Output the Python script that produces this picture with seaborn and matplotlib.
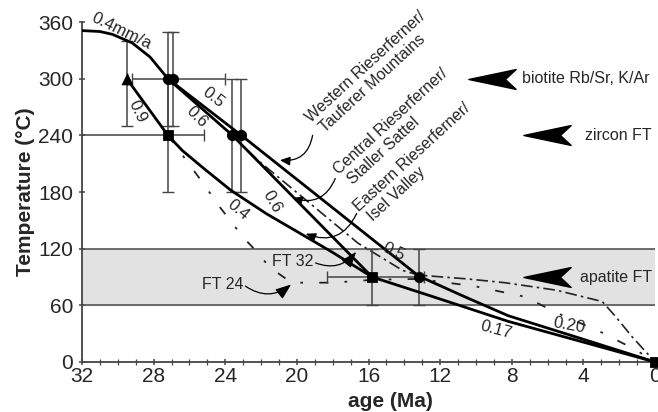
import matplotlib
import matplotlib.pyplot as plt
import numpy as np
import seaborn as sns
from matplotlib.path import Path

matplotlib.use("Agg")
sns.set_theme(style="ticks")
plt.rcParams["font.family"] = ["Liberation Sans", "DejaVu Sans"]

# cooling paths (age in Ma, temperature in degC)
west_age = [32, 31, 30.3, 29.2, 28.2, 27.2, 23.1, 13.2, 10.5, 8.2, 4, 0]
west_temp = [351, 350, 347, 338, 323, 300, 240, 91, 68, 49, 24, 0]
central_age = [27.2, 23.6, 15.8, 12.7, 8.2, 4, 0]
central_temp = [300, 240, 90, 71, 43, 21, 0]
east_age = [29.5, 27.2, 26.4, 25.2, 23.7, 21.7, 19.8, 18, 15.8]
east_temp = [300, 240, 224, 205, 182, 157, 136, 116, 90]
ft32_age = [23.6, 22.2, 16.6, 14.1, 13.2, 10.5, 8.4, 5.5, 2.95, 2.2, 1.3, 0]
ft32_temp = [240, 214, 126, 97, 92, 88, 84, 76, 64, 48, 27, 0]
ft24_age = [27.2, 26, 25.3, 24.3, 23, 22.4, 21.5, 20.3, 18, 15.8, 13.2, 10, 7.25, 5.6, 2.95, 1.1, 0]
ft24_temp = [240, 209, 191, 164, 132, 120, 100, 84, 84, 87, 88, 80, 69, 53, 31, 13, 0]

# dated samples
circle_age = [27.2, 26.9, 23.6, 23.1, 13.2]
circle_temp = [300, 300, 240, 240, 90]
square_age = [27.2, 15.8, 0]
square_temp = [240, 90, 0]
triangle_age = [29.5]
triangle_temp = [300]

# error bars
err_age = [29.5, 27.2, 26.9, 27.2, 23.6, 23.1, 15.8, 13.2]
err_temp = [300, 300, 300, 240, 240, 240, 90, 90]
err_age_older = [0, 3.2, 0, 2.0, 0, 0, 2.9, 0]
err_age_younger = [0, 2.0, 0, 6.9, 0, 0, 2.5, 0]
err_temp_lo = [50, 50, 50, 60, 60, 60, 30, 30]
err_temp_hi = [40, 50, 50, 60, 60, 60, 30, 30]

# closure temperatures of the dating methods
method_names = ["biotite Rb/Sr, K/Ar", "zircon FT", "apatite FT"]
method_temp = [300, 240, 90]
method_arrow_age = [9.1, 6.05, 6.05]
method_text_age = [7.42, 3.9, 4.18]

# exhumation-rate labels along the paths
rate_labels = ["0.4mm/a", "0.5", "0.6", "0.9", "0.4", "0.6", "0.5", "0.17", "0.20"]
rate_age = [29.8, 24.7, 25.6, 28.9, 23.3, 21.4, 14.6, 8.9, 4.8]
rate_temp = [350, 280, 260, 265, 161, 170, 117, 34, 39]
rate_rot = [-26, -38, -45, -65, -40, -60, -25, -15, -10]

# area labels, one line at a time
group_lines = ["Western Rieserferner/", "Tauferer Mountains",
               "Central Rieserferner/", "Staller Sattel",
               "Eastern Rieserferner/", "Isel Valley"]
group_age = [19.21, 18.42, 17.64, 16.86, 16.53, 15.74]
group_temp = [253.2, 242.6, 198.1, 187.5, 158.9, 148.3]
leader_tail_age = [19.1, 17.8, 16.6]
leader_tail_temp = [243, 197, 160]
leader_tip_age = [21.1, 20.4, 19.65]
leader_tip_temp = [214, 175, 137]

# fission-track path labels
ft_names = ["FT 32", "FT 24"]
ft_age = [21.4, 25.3]
ft_temp = [106, 82]
ft_tail_age = [19.1, 23.0]
ft_tip_age = [16.6, 20.2]
ft_tip_temp = [119, 84]

fig = plt.figure(figsize=(6.58, 4.12), dpi=100)
ax = fig.add_axes([0.1246, 0.1214, 0.871, 0.825])

ax.axhspan(60, 120, color="#e2e2e2", zorder=0)
for t in (60, 120):
    ax.axhline(t, color="#555555", lw=1.2, zorder=1)

solid = dict(color="black", lw=2.0, sort=False, estimator=None, ax=ax, zorder=3)
sns.lineplot(x=west_age, y=west_temp, **solid)
sns.lineplot(x=central_age, y=central_temp, **solid)
sns.lineplot(x=east_age, y=east_temp, **solid)
sns.lineplot(x=ft32_age, y=ft32_temp, color="#222222", lw=1.2, sort=False,
             estimator=None, ax=ax, linestyle=(0, (7, 2.5, 1.5, 2.5)), zorder=2)
sns.lineplot(x=ft24_age, y=ft24_temp, color="#222222", lw=1.3, sort=False,
             estimator=None, ax=ax, linestyle=(0, (5, 9, 1.5, 9)), zorder=2)

ax.errorbar(err_age, err_temp,
            xerr=[err_age_older, err_age_younger],
            yerr=[err_temp_lo, err_temp_hi],
            fmt="none", ecolor="#444444", elinewidth=1.1, capsize=4, zorder=2)

sns.scatterplot(x=circle_age, y=circle_temp, marker="o", s=55, color="black",
                edgecolor="black", ax=ax, zorder=4)
sns.scatterplot(x=square_age, y=square_temp, marker="s", s=55, color="black",
                edgecolor="black", ax=ax, zorder=4, clip_on=False)
sns.scatterplot(x=triangle_age, y=triangle_temp, marker="^", s=60, color="black",
                edgecolor="black", ax=ax, zorder=4)

# notched arrowheads pointing at the closure temperatures
head = Path([(-1, 0), (1, 0.42), (0.55, 0), (1, -0.42), (-1, 0)],
            [Path.MOVETO, Path.LINETO, Path.LINETO, Path.LINETO, Path.CLOSEPOLY])
ax.plot(method_arrow_age, method_temp, ls="none", marker=head, ms=34,
        color="black", zorder=5)
for name, a, t in zip(method_names, method_text_age, method_temp):
    ax.text(a, t, name, fontsize=11.5, ha="left", va="center", zorder=6)

for lab, a, t, r in zip(rate_labels, rate_age, rate_temp, rate_rot):
    ax.text(a, t, lab, fontsize=12, rotation=r, ha="center", va="center",
            rotation_mode="anchor", zorder=6)

for g, a, t in zip(group_lines, group_age, group_temp):
    ax.text(a, t, g, fontsize=11.5, rotation=42.5, rotation_mode="anchor",
            ha="left", va="baseline", zorder=6)
for ta, tt, ha_, ht in zip(leader_tail_age, leader_tail_temp, leader_tip_age, leader_tip_temp):
    ax.annotate("", xy=(ha_, ht), xytext=(ta, tt),
                arrowprops=dict(arrowstyle="-|>,head_length=0.5,head_width=0.22",
                                color="black", lw=0.9,
                                connectionstyle="arc3,rad=-0.5"), zorder=6)

for n, a, t, ta, tipa, tipt in zip(ft_names, ft_age, ft_temp, ft_tail_age, ft_tip_age, ft_tip_temp):
    ax.text(a, t, n, fontsize=11.5, ha="left", va="center", zorder=6)
    ax.annotate("", xy=(tipa, tipt), xytext=(ta, t),
                arrowprops=dict(arrowstyle="-|>,head_length=0.8,head_width=0.3",
                                color="black", lw=0.9,
                                connectionstyle="arc3,rad=0.4"), zorder=6)

ax.set_xlim(32, 0)
ax.set_ylim(0, 360)
ax.set_xticks(np.arange(32, -1, -4))
ax.set_xticks(np.arange(32, -1, -1), minor=True)
ax.set_yticks(np.arange(0, 361, 60))
ax.tick_params(axis="both", which="major", labelsize=15, length=5, width=1.1,
               color="#444444", direction="inout", pad=1)
ax.tick_params(axis="y", which="major", pad=4)
ax.tick_params(axis="x", which="minor", length=4, width=0.9, color="#444444",
               direction="inout")
sns.despine(ax=ax)
for side in ("left", "bottom"):
    ax.spines[side].set_color("#444444")
    ax.spines[side].set_linewidth(1.3)

ax.set_xlabel("age (Ma)", fontsize=15, fontweight="bold")
ax.xaxis.set_label_coords((390 - 82) / 573, -0.088)
ax.set_ylabel("Temperature (°C)", fontsize=15, fontweight="bold", labelpad=2)
ax.grid(False)

fig.savefig("out.png", dpi=100)
plt.close(fig)
